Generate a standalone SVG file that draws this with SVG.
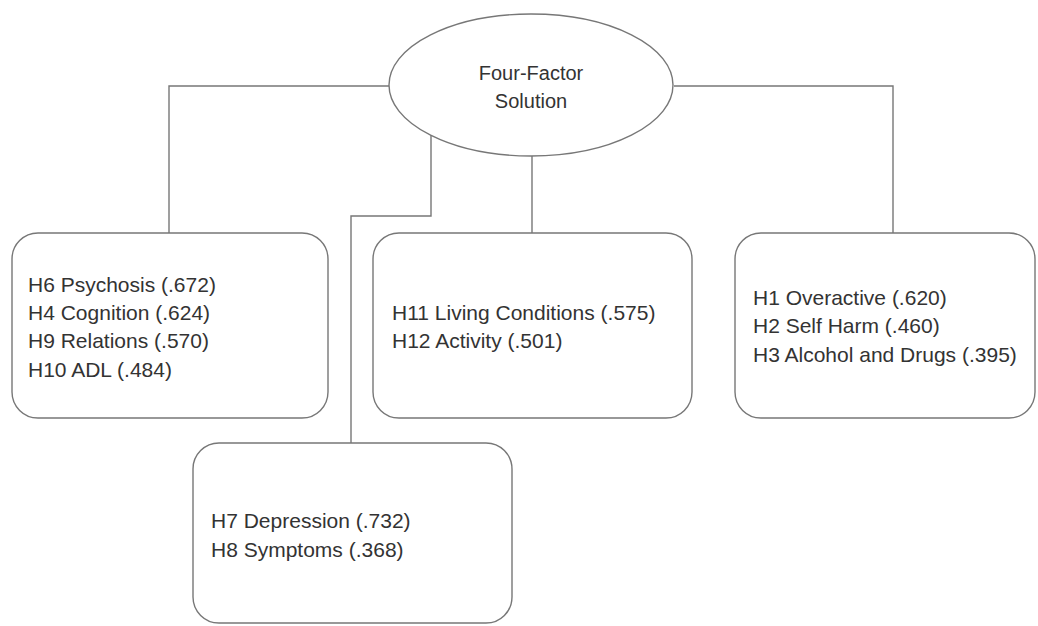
<svg xmlns="http://www.w3.org/2000/svg" width="1038" height="626" viewBox="0 0 1038 626">
<style>
.shape{fill:#fff;stroke:#777;stroke-width:1.4}
.conn{fill:none;stroke:#777;stroke-width:1.4}
text{font-family:"Liberation Sans",Arial,sans-serif;font-size:21px;fill:#333}
.title{font-size:20px;text-anchor:middle}
</style>
<rect width="1038" height="626" fill="#fff"/>
<g id="connectors">
<polyline class="conn" points="389,86 169,86 169,233"/>
<polyline class="conn" points="674,86 893,86 893,233"/>
<line class="conn" x1="532" y1="156" x2="532" y2="233"/>
<polyline class="conn" points="431,135 431,216 351,216 351,443"/>
</g>
<g id="root">
<ellipse class="shape" cx="531" cy="85" rx="142" ry="71"/>
<text class="title" x="531" y="80">Four-Factor</text>
<text class="title" x="531" y="108">Solution</text>
</g>
<g id="box-left">
<rect class="shape" x="12" y="233" width="316" height="185" rx="26"/>
<text x="28" y="292">H6 Psychosis (.672)</text>
<text x="28" y="320">H4 Cognition (.624)</text>
<text x="28" y="348">H9 Relations (.570)</text>
<text x="28" y="377">H10 ADL (.484)</text>
</g>
<g id="box-middle">
<rect class="shape" x="373" y="233" width="319" height="185" rx="26"/>
<text x="392" y="320">H11 Living Conditions (.575)</text>
<text x="392" y="348">H12 Activity (.501)</text>
</g>
<g id="box-right">
<rect class="shape" x="735" y="233" width="300" height="185" rx="26"/>
<text x="753" y="305">H1 Overactive (.620)</text>
<text x="753" y="333">H2 Self Harm (.460)</text>
<text x="753" y="362">H3 Alcohol and Drugs (.395)</text>
</g>
<g id="box-bottom">
<rect class="shape" x="193" y="443" width="319" height="180" rx="26"/>
<text x="211" y="528">H7 Depression (.732)</text>
<text x="211" y="557">H8 Symptoms (.368)</text>
</g>
</svg>
